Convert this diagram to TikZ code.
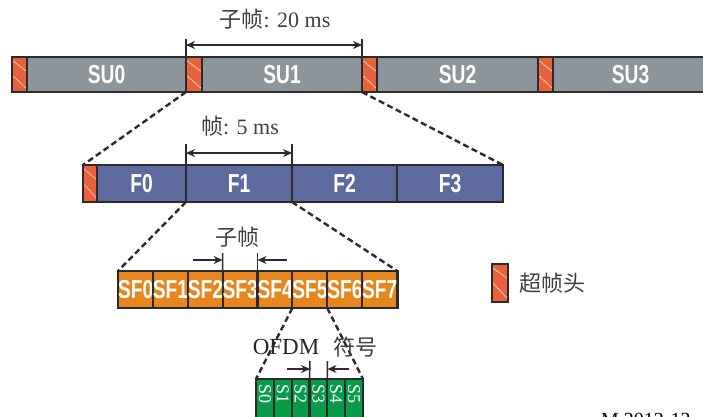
\documentclass[tikz,border=0pt]{standalone}
\usepackage{fontspec}
\setmainfont{Liberation Serif}
\newfontfamily\cjk{Noto Sans CJK SC}
\newfontfamily\lsans{Liberation Sans}
\usetikzlibrary{arrows.meta}
\definecolor{bord}{HTML}{2B2B2B}
\definecolor{sugray}{HTML}{8C959C}
\definecolor{hdrred}{HTML}{E8603C}
\definecolor{frblue}{HTML}{5C6A9E}
\definecolor{sforange}{HTML}{E8861E}
\definecolor{symgreen}{HTML}{0A9B48}
\definecolor{txtgray}{HTML}{404040}
\newcommand{\cnd}[1]{\scalebox{0.74}[1]{#1}}
\tikzset{
  cell/.style={draw=bord, line width=2.2pt, anchor=north west, inner sep=0pt, outer sep=0pt,
    text=white, font=\lsans\bfseries\fontsize{26}{26}\selectfont},
  hdr/.style={cell, fill=hdrred, path picture={
      \draw[white, line width=0.6pt, dash pattern=on 2pt off 0.6pt]
        ([yshift=-3pt]path picture bounding box.north west) -- ([yshift=-15pt]path picture bounding box.north east);
      \draw[white, line width=0.6pt, dash pattern=on 2pt off 0.6pt]
        ([yshift=-18pt]path picture bounding box.north west) -- ([yshift=3pt]path picture bounding box.south east);}},
  sucell/.style={cell, fill=sugray, minimum height=35pt},
  frcell/.style={cell, fill=frblue, minimum height=37pt},
  sfcell/.style={cell, fill=sforange, minimum height=37pt},
  symcell/.style={cell, fill=symgreen, minimum height=51pt},
  zoomline/.style={draw=bord, line width=2.4pt, dash pattern=on 6pt off 3.5pt},
  tick/.style={draw=bord, line width=1.5pt},
  dim/.style={draw=bord, line width=1.5pt, {Stealth[length=9pt,width=8pt]}-{Stealth[length=9pt,width=8pt]}},
  dimr/.style={draw=bord, line width=1.5pt, -{Stealth[length=9pt,width=8pt]}},
  lab/.style={text=txtgray, font=\fontsize{22}{22}\selectfont, inner sep=0pt},
}
\begin{document}
\begin{tikzpicture}[x=1pt,y=-1pt]
\useasboundingbox (0,0) rectangle (703,416);
% ---- superframe row
\node[hdr, minimum width=15pt, minimum height=35pt] (h0) at (12,57) {};
\node[sucell, minimum width=159pt] (su0) at (27,57) {\cnd{SU0}};
\node[hdr, minimum width=16pt, minimum height=35pt] (h1) at (186,57) {};
\node[sucell, minimum width=160pt] (su1) at (202,57) {\cnd{SU1}};
\node[hdr, minimum width=15pt, minimum height=35pt] (h2) at (362,57) {};
\node[sucell, minimum width=161pt] (su2) at (377,57) {\cnd{SU2}};
\node[hdr, minimum width=15pt, minimum height=35pt] (h3) at (538,57) {};
\node[sucell, minimum width=155pt] (su3) at (553,57) {\cnd{SU3}};
% dimension 20 ms
\coordinate (t1) at (186,39);
\coordinate (t2) at (362,39);
\draw[tick] (t1) -- (h1.north west);
\draw[tick] (t2) -- (h2.north west);
\coordinate (d1l) at (186,45);
\coordinate (d1r) at (362,45);
\draw[dim] (d1l) -- (d1r);
\node[lab] (l20) at (275,19) {{\cjk 子帧}: 20 ms};
% ---- frame row
\node[hdr, minimum width=14pt, minimum height=37pt] (fh) at (83,165) {};
\node[frcell, minimum width=89pt] (f0) at (97,165) {\cnd{F0}};
\node[frcell, minimum width=106pt] (f1) at (186,165) {\cnd{F1}};
\node[frcell, minimum width=105pt] (f2) at (292,165) {\cnd{F2}};
\node[frcell, minimum width=106pt] (f3) at (397,165) {\cnd{F3}};
\draw[zoomline] (h1.south west) -- (fh.north west);
\draw[zoomline] (h2.south west) -- (f3.north east);
\coordinate (t3) at (186,144);
\coordinate (t4) at (292,144);
\draw[tick] (t3) -- (f1.north west);
\draw[tick] (t4) -- (f2.north west);
\coordinate (d2l) at (186,153);
\coordinate (d2r) at (292,153);
\draw[dim] (d2l) -- (d2r);
\node[lab] (l5) at (240,126) {{\cjk 帧}: 5 ms};
% ---- subframe row
\foreach \i in {0,...,7}{
  \node[sfcell, minimum width=34.875pt] (sf\i) at (118+34.875*\i,271) {\cnd{SF\i}};
}
\draw[zoomline] (f1.south west) -- (sf0.north west);
\draw[zoomline] (f2.south west) -- (sf7.north east);
\coordinate (t5) at (222.6,253);
\coordinate (t6) at (257.5,253);
\draw[tick] (t5) -- (sf3.north west);
\draw[tick] (t6) -- (sf4.north west);
\coordinate (a3l) at (193,260);
\coordinate (a3lt) at (222.6,260);
\coordinate (a3r) at (287,260);
\coordinate (a3rt) at (257.5,260);
\draw[dimr] (a3l) -- (a3lt);
\draw[dimr] (a3r) -- (a3rt);
\node[lab] (lsf) at (237,237) {\cjk 子帧};
% ---- OFDM symbol row
\foreach \i in {0,...,5}{
  \node[symcell, minimum width=17.83pt] (s\i) at (256+17.83*\i,379) {};
  \node[text=white, font=\fontsize{18}{18}\selectfont, rotate=-90, inner sep=0pt, anchor=west] (st\i) at (256+17.83*\i+8.9,384) {S\i};
}
\draw[zoomline] (sf5.south west) -- (s0.north west);
\draw[zoomline] (sf6.south west) -- (s5.north east);
\coordinate (t7) at (310,361);
\coordinate (t8) at (327.5,361);
\draw[tick] (t7) -- (s3.north west);
\draw[tick] (t8) -- (s4.north west);
\coordinate (a4l) at (287,369);
\coordinate (a4lt) at (310,369);
\coordinate (a4r) at (349,369);
\coordinate (a4rt) at (327.5,369);
\draw[dimr] (a4l) -- (a4lt);
\draw[dimr] (a4r) -- (a4rt);
\node[inner sep=0pt, text=black!85, font=\fontsize{23}{23}\selectfont] (lofdm) at (286,347) {OFDM};
\node[lab] (lsym) at (355,347) {\cjk 符号};
% ---- legend
\node[hdr, minimum width=16pt, minimum height=38pt] (lh) at (492,264) {};
\node[lab, anchor=west] (llh) at (519,283) {\cjk 超帧头};
% ---- figure number (cut off)
\node[inner sep=0pt, anchor=north west, text=black, font=\fontsize{20}{20}\selectfont] (fig) at (601,413) {M.2012-12};
\end{tikzpicture}
\end{document}
